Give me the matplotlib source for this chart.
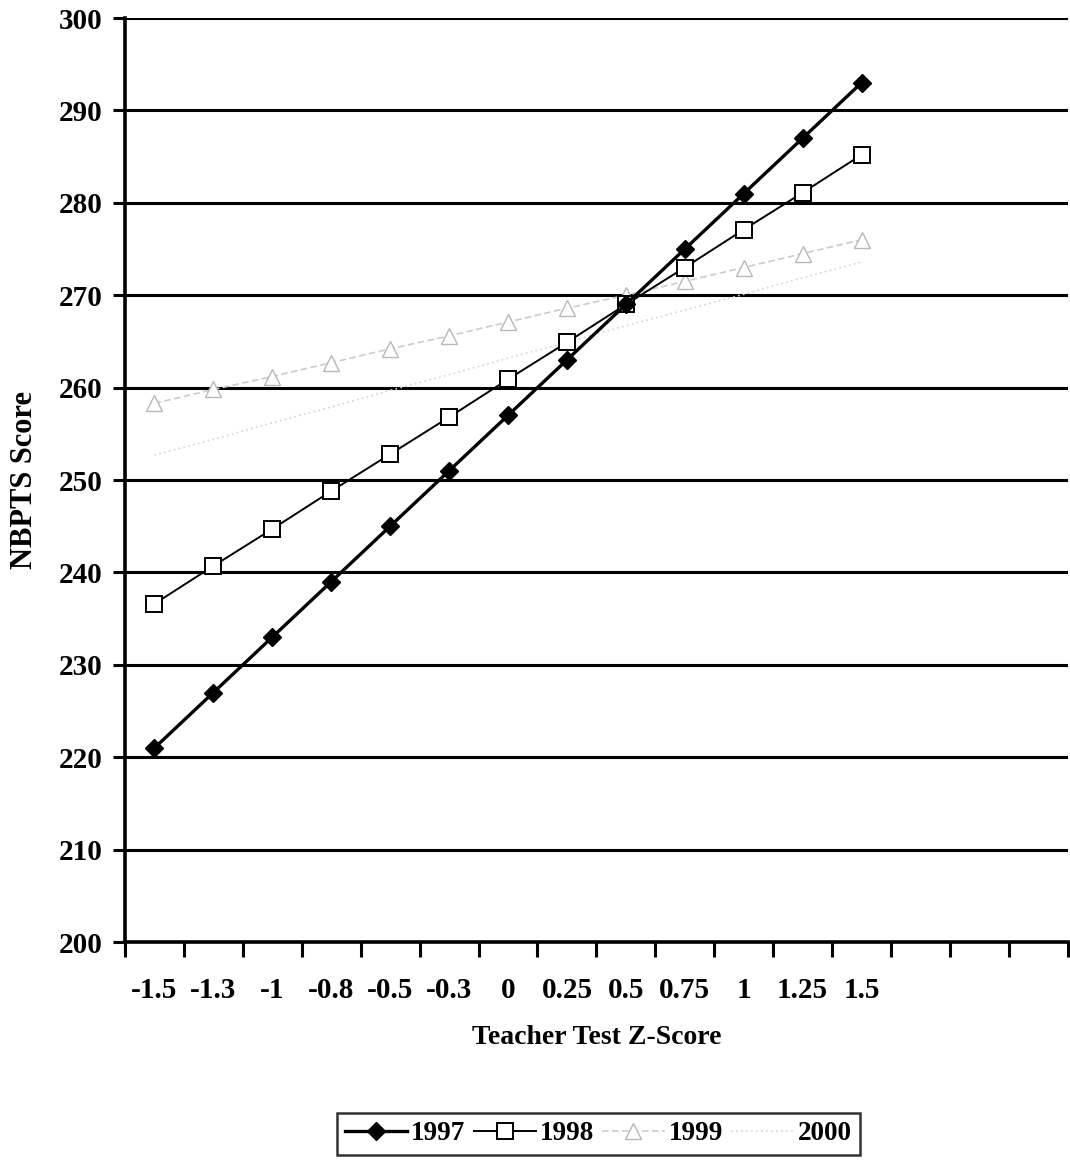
import numpy as np
import matplotlib
matplotlib.use("Agg")
import matplotlib.pyplot as plt

# data
z_labels = ["-1.5", "-1.3", "-1", "-0.8", "-0.5", "-0.3", "0",
            "0.25", "0.5", "0.75", "1", "1.25", "1.5"]
n_slots = 16  # category axis has three empty slots on the right

s1997 = [221, 227, 233, 239, 245, 251, 257, 263, 269, 275, 281, 287, 293]
s1998 = [236.6, 240.7, 244.7, 248.8, 252.8, 256.8, 260.9, 264.9, 269.0,
         273.0, 277.1, 281.1, 285.2]
s1999 = [258.3, 259.8, 261.2, 262.7, 264.2, 265.6, 267.1, 268.6, 270.0,
         271.5, 273.0, 274.5, 276.0]
s2000 = [252.7, 254.4, 256.2, 257.9, 259.7, 261.4, 263.2, 264.9, 266.7,
         268.4, 270.1, 271.9, 273.6]

plt.rcParams["font.family"] = ["Liberation Serif", "DejaVu Serif"]
plt.rcParams["font.weight"] = "bold"

fig = plt.figure(figsize=(10.70, 11.63), dpi=100)
ax = fig.add_axes([0.1168, 0.19, 0.8812, 0.7945])

x = np.arange(len(z_labels))

ax.plot(x, s2000, color="#d4d4d4", lw=1.2, ls=(0, (1, 2)), label="2000", zorder=2)
ax.plot(x, s1999, color="#cccccc", lw=1.2, ls=(0, (4, 2)), marker="^",
        ms=11, mfc="white", mec="#b8b8b8", label="1999", zorder=2)
ax.plot(x, s1998, color="black", lw=1.4, marker="s", ms=11,
        mfc="white", mec="black", mew=1.4, label="1998", zorder=3)
ax.plot(x, s1997, color="black", lw=2.4, marker="D", ms=9,
        mfc="black", mec="black", label="1997", zorder=4)

ax.set_ylim(200, 300)
ax.set_yticks(np.arange(200, 301, 10))
ax.set_xlim(-0.5, n_slots - 0.5)
ax.set_xticks(np.arange(-0.5, n_slots, 1.0))
ax.set_xticklabels([])
ax.set_xticks(x, minor=True)
ax.set_xticklabels(z_labels, minor=True)

ax.yaxis.grid(True, color="black", lw=2.2)
ax.set_axisbelow(True)
for s in ["top", "right"]:
    ax.spines[s].set_visible(False)
for s in ["left", "bottom"]:
    ax.spines[s].set_linewidth(2.6)

ax.tick_params(axis="y", which="major", direction="out", length=9, width=2.2,
               labelsize=21, pad=7)
ax.tick_params(axis="x", which="major", direction="out", length=11, width=2.2)
ax.tick_params(axis="x", which="minor", length=0, labelsize=21, pad=25)

ax.set_xlabel("Teacher Test Z-Score", fontsize=20, fontweight="bold", labelpad=15)
ax.set_ylabel("NBPTS Score", fontsize=22, fontweight="bold", labelpad=14)

handles, labels = ax.get_legend_handles_labels()
order = [3, 2, 1, 0]
leg = fig.legend([handles[i] for i in order], [labels[i] for i in order],
                 loc="center", bbox_to_anchor=(0.559, 0.025), ncol=4,
                 frameon=True, fancybox=False, edgecolor="black",
                 handlelength=2.3, handletextpad=0.15, columnspacing=0.3,
                 borderpad=0.3, borderaxespad=0.2,
                 prop={"weight": "bold", "size": 19.5})
leg.get_frame().set_linewidth(1.8)

fig.savefig("out.png", dpi=100)
